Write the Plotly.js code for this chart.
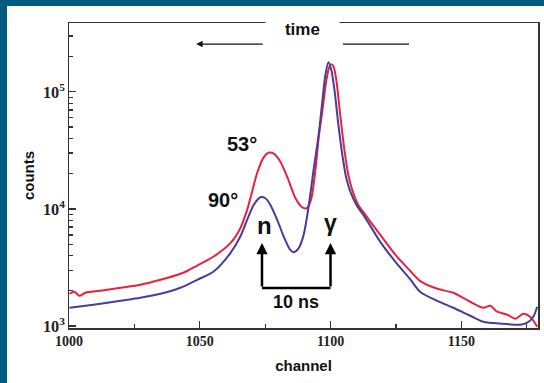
<!DOCTYPE html>
<html>
<head>
<meta charset="utf-8">
<script src="https://cdn.plot.ly/plotly-3.0.1.min.js"></script>
<style>
html,body{margin:0;padding:0;background:#045b80;width:544px;height:383px;overflow:hidden;}
#plot{position:absolute;left:7px;top:6px;width:537px;height:377px;background:#fff;}
</style>
</head>
<body>
<div id="plot"></div>
<script>
// 53 degree detector (red)
const redChannel = [1000.2,1002.1,1004.0,1006.3,1012.0,1019.7,1027.3,1035.0,1042.6,1045.5,1049.0,1055.3,1061.7,1065.5,1068.1,1070.0,1071.9,1074.4,1076.3,1078.3,1080.8,1083.4,1086.6,1089.1,1090.8,1092.5,1094.2,1095.5,1096.9,1098.4,1099.6,1100.3,1101.1,1102.2,1103.7,1105.3,1106.8,1108.3,1110.6,1113.3,1119.0,1124.8,1130.5,1134.3,1140.8,1146.9,1153.4,1158.4,1161.1,1163.7,1167.6,1170.6,1173.7,1176.3,1179.0];
const redCounts = [1886,1961,1813,1923,2000,2121,2251,2481,2792,2980,3286,3922,5101,6847,9806,14045,20157,27596,30200,29610,25307,18860,12338,10339,10139,11932,21504,41335,69823,125830,165600,172200,165600,125800,63300,31840,19490,14520,10820,8890,6002,4055,2950,2420,2080,1923,1612,1432,1490,1324,1249,1154,1273,1200,986];
// 90 degree detector (blue)
const blueChannel = [1000.2,1006.3,1012.0,1019.7,1027.3,1035.0,1042.6,1049.0,1055.3,1061.7,1065.5,1068.1,1070.6,1073.2,1075.1,1077.0,1079.6,1082.1,1084.6,1085.9,1087.8,1089.7,1091.6,1093.5,1095.5,1096.9,1098.0,1099.2,1100.3,1101.5,1103.0,1104.5,1106.0,1107.6,1109.9,1113.3,1119.0,1124.8,1130.5,1134.3,1140.8,1146.9,1153.4,1158.4,1166.0,1172.5,1175.2,1177.5,1179.0];
const blueCounts = [1432,1490,1549,1643,1743,1886,2121,2481,2921,4193,5806,8058,10820,12585,12340,10820,8058,5806,4473,4275,4624,6002,10460,21500,44200,84980,138800,179100,153100,103400,52020,28870,18380,13960,10820,8380,5233,3534,2500,1950,1640,1432,1224,1088,1046,1026,1067,1200,1461];

const xTickVals = [1000,1050,1100,1150];
const xTickText = ['1000','1050','1100','1150'];

const traces = [
  {x: redChannel, y: redCounts, type:'scatter', mode:'lines', line:{color:'#e8213c', width:2, shape:'spline', smoothing:0.8}, name:'53°'},
  {x: blueChannel, y: blueCounts, type:'scatter', mode:'lines', line:{color:'#4a3c9b', width:2, shape:'spline', smoothing:0.8}, name:'90°'}
];

const xTickFont = {family:'Liberation Serif, Times New Roman, serif', size:14, color:'#222', weight:'bold'};
const yTickFont = {family:'Liberation Serif, Times New Roman, serif', size:13, color:'#222', weight:'bold'};
const lblFont = {family:'Liberation Sans, Arial, sans-serif', size:15, color:'#111', weight:'bold'};
const annFont = (s) => ({family:'Liberation Sans, Arial, sans-serif', size:s, color:'#111', weight:'bold'});

const layout = {
  width:537, height:377,
  margin:{l:62, r:6, t:17, b:55},
  paper_bgcolor:'#ffffff', plot_bgcolor:'#ffffff',
  showlegend:false,
  xaxis:{
    range:[1000,1179.3], showgrid:false, zeroline:false,
    showline:true, linecolor:'#333', linewidth:1.5, mirror:true,
    tickmode:'array', tickvals:xTickVals, ticktext:xTickText,
    ticks:'inside', ticklen:7, tickcolor:'#333', tickwidth:1.2,
    minor:{dtick:25, tick0:1000, ticks:'inside', ticklen:4, tickcolor:'#333', tickwidth:1.2},
    tickfont:xTickFont,
    title:{text:'channel', font:lblFont, standoff:12}
  },
  yaxis:{
    type:'log', range:[2.983,5.588], showgrid:false, zeroline:false,
    showline:true, linecolor:'#333', linewidth:1.5, mirror:true,
    dtick:1, exponentformat:'power',
    ticks:'inside', ticklen:7, tickcolor:'#333', tickwidth:1.2,
    minor:{dtick:'D1', ticks:'inside', ticklen:4, tickcolor:'#333', tickwidth:1.2},
    tickfont:yTickFont,
    title:{text:'counts', font:lblFont, standoff:4}
  },
  shapes:[
    {type:'line', xref:'paper', yref:'paper', x0:0.584, x1:0.725, y0:0.931, y1:0.931, line:{color:'#111', width:1.3}},
    {type:'line', xref:'paper', yref:'paper', x0:0.4115, x1:0.5576, y0:0.131, y1:0.131, line:{color:'#000', width:2.5}}
  ],
  annotations:[
    {xref:'paper', yref:'paper', x:0.497, y:0.979, text:'&nbsp;&nbsp;&nbsp;&nbsp;time&nbsp;&nbsp;&nbsp;&nbsp;', showarrow:false, bgcolor:'#ffffff', borderpad:0, font:annFont(17), xanchor:'center', yanchor:'middle'},
    {xref:'paper', yref:'paper', x:0.271, y:0.931, text:'', showarrow:true, ax:68, ay:0, arrowhead:2, arrowsize:1, arrowwidth:1.3, arrowcolor:'#111'},
    {xref:'paper', yref:'paper', x:0.368, y:0.603, text:'53°', showarrow:false, font:annFont(20), xanchor:'center', yanchor:'middle'},
    {xref:'paper', yref:'paper', x:0.328, y:0.420, text:'90°', showarrow:false, font:annFont(20), xanchor:'center', yanchor:'middle'},
    {xref:'paper', yref:'paper', x:0.416, y:0.335, text:'n', showarrow:false, font:annFont(24), xanchor:'center', yanchor:'middle'},
    {xref:'paper', yref:'paper', x:0.558, y:0.345, text:'γ', showarrow:false, font:annFont(23), xanchor:'center', yanchor:'middle'},
    {xref:'paper', yref:'paper', x:0.484, y:0.085, text:'10 ns', showarrow:false, font:annFont(18), xanchor:'center', yanchor:'middle'},
    {xref:'paper', yref:'paper', x:0.4115, y:0.2787, text:'', showarrow:true, ax:0, ay:45, arrowhead:2, arrowsize:0.9, arrowwidth:2.5, arrowcolor:'#000'},
    {xref:'paper', yref:'paper', x:0.5576, y:0.2787, text:'', showarrow:true, ax:0, ay:45, arrowhead:2, arrowsize:0.9, arrowwidth:2.5, arrowcolor:'#000'}
  ]
};

Plotly.newPlot('plot', traces, layout, {staticPlot:true, displayModeBar:false});
</script>
</body>
</html>
